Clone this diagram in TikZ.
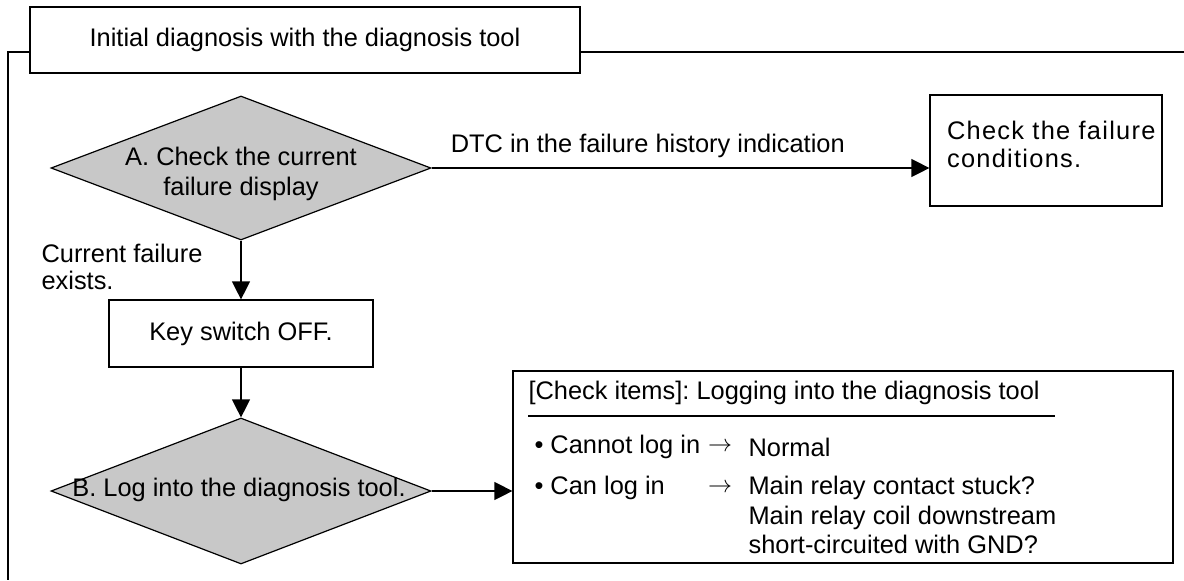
\documentclass[tikz,border=0pt]{standalone}
\usepackage{fontspec}
\setmainfont{Liberation Sans}
\newfontfamily\widefont[LetterSpace=5]{Liberation Sans}
\usepackage{tikz}
\usetikzlibrary{positioning, shapes.geometric, arrows.meta}
\definecolor{DecisionGray}{RGB}{200, 200, 200}

\begin{document}
\begin{tikzpicture}[x=0.5pt, y=-0.5pt,
    font=\fontsize{12.7}{15}\selectfont,
    box/.style={draw, line width=0.6pt},
    decision/.style={diamond, draw, line width=0.6pt, fill=DecisionGray, inner sep=0pt, minimum width=190pt, minimum height=72pt},
    flow/.style={line width=0.6pt, -{Triangle[length=9pt, width=9pt]}}]
    \useasboundingbox (0,0) rectangle (1184,580);

    % Frame with title
    \node[box, minimum width=275pt, minimum height=33pt] (title) at (305,40) {Initial diagnosis with the diagnosis tool};
    \draw[line width=0.6pt] (30,52) -- (8,52) -- (8,580);
    \draw[line width=0.6pt] (580,52) -- (1184,52);

    % A. current failure display
    \node[decision] (chkA) at (241,168) {};
    \node[align=center] (txtA) at (241,174) {A. Check the current\\failure display};
    \node[box, minimum width=116pt, minimum height=55.5pt] (cond) at (1046,150.5) {};
    \node[anchor=west, align=left, font=\widefont\fontsize{12.7}{14}\selectfont] (txtCond) at (940,144) {Check the failure\\conditions.};
    \draw[flow] (chkA.east) -- (chkA.east -| cond.west)
      node[pos=0, anchor=west, xshift=6pt, yshift=11pt] {DTC in the failure history indication};
    \node[anchor=west, align=left, font=\fontsize{12.7}{13.5}\selectfont] (lblCur) at (34.5,266.5) {Current failure\\exists.};

    % Key switch
    \node[box, minimum width=132pt, minimum height=33.5pt] (key) at (241,333.5) {Key switch OFF.};
    \draw[flow] (chkA.south) -- (key.north);

    % B. log into the tool
    \node[decision, minimum height=73pt] (chkB) at (241,491) {};
    \node (txtB) at (239,490) {B. Log into the diagnosis tool.};
    \draw[flow] (key.south) -- (chkB.north);

    % Check items
    \node[box, minimum width=330pt, minimum height=96pt] (items) at (843,467) {};
    \draw[flow] (chkB.east) -- (chkB.east -| items.west);
    \node[anchor=west] (hdr) at (521.5,393) {[Check items]:\ Logging into the diagnosis tool};
    \draw[line width=0.8pt] (528,416) -- (1055,416);
    \node[anchor=west] (itm1) at (527.5,447) {\textbullet\ Cannot log in};
    \node[anchor=west] (arr1) at (701,447) {$\rightarrow$};
    \node[anchor=west] (res1) at (741.5,447) {Normal};
    \node[anchor=west] (itm2) at (527.5,488) {\textbullet\ Can log in};
    \node[anchor=west] (arr2) at (701,488) {$\rightarrow$};
    \node[anchor=north west, align=left, font=\fontsize{12.7}{14.75}\selectfont] (res2) at (741.5,469.5) {Main relay contact stuck?\\Main relay coil downstream\\short-circuited with GND?};
\end{tikzpicture}
\end{document}
